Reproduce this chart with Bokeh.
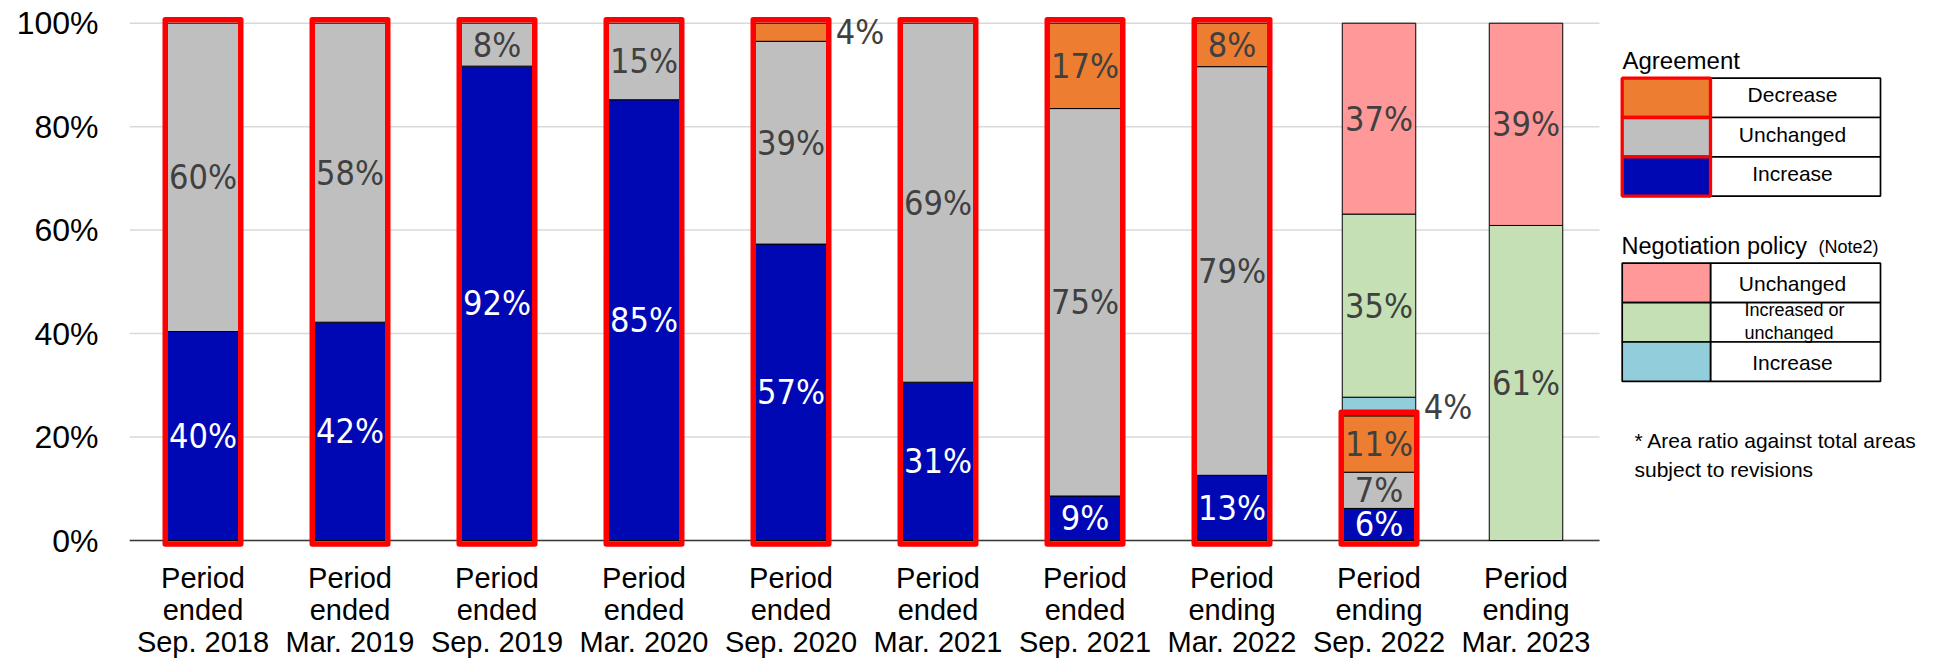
from bokeh.plotting import figure
from bokeh.models import Range1d, FixedTicker, ColumnDataSource
from bokeh.core.properties import value
from bokeh.embed import file_html
from bokeh.resources import INLINE

# ---------------- data ----------------
categories = [
    "Period\nended\nSep. 2018", "Period\nended\nMar. 2019", "Period\nended\nSep. 2019",
    "Period\nended\nMar. 2020", "Period\nended\nSep. 2020", "Period\nended\nMar. 2021",
    "Period\nended\nSep. 2021", "Period\nending\nMar. 2022", "Period\nending\nSep. 2022",
    "Period\nending\nMar. 2023",
]
# Agreement (percent)
agr_increase = [40.4, 42.2, 91.7, 85.2, 57.3, 30.6, 8.6, 12.6, 6.2, 0.0]
agr_unchanged = [59.6, 57.8, 8.3, 14.8, 39.2, 69.4, 74.9, 79.0, 7.0, 0.0]
agr_decrease = [0.0, 0.0, 0.0, 0.0, 3.5, 0.0, 16.5, 8.4, 10.9, 0.0]
# Negotiation policy (percent)
pol_increase = [0.0, 0.0, 0.0, 0.0, 0.0, 0.0, 0.0, 0.0, 3.6, 0.0]
pol_increased_or_unchanged = [0.0, 0.0, 0.0, 0.0, 0.0, 0.0, 0.0, 0.0, 35.4, 60.9]
pol_unchanged = [0.0, 0.0, 0.0, 0.0, 0.0, 0.0, 0.0, 0.0, 36.9, 39.1]

y_ticks = [0, 20, 40, 60, 80, 100]
y_tick_labels = ["0%", "20%", "40%", "60%", "80%", "100%"]

agr_legend_labels = ["Decrease", "Unchanged", "Increase"]
pol_legend_labels = ["Unchanged", "Increased or\nunchanged", "Increase"]
footnote_lines = ["* Area ratio against total areas", "subject to revisions"]

# ---------------- styles ----------------
C_BLUE = "#0008B4"
C_GRAY = "#BFBFBF"
C_ORANGE = "#ED7D31"
C_LBLUE = "#92CDDC"
C_GREEN = "#C5E0B4"
C_PINK = "#FF9999"
C_RED = "#FF0000"
DARK = "#404040"
AX_FONT = "Liberation Sans"
LBL_FONT = "DejaVu Sans Condensed"

series = [
    (agr_increase, C_BLUE, "white"),
    (agr_unchanged, C_GRAY, DARK),
    (agr_decrease, C_ORANGE, DARK),
    (pol_increase, C_LBLUE, DARK),
    (pol_increased_or_unchanged, C_GREEN, DARK),
    (pol_unchanged, C_PINK, DARK),
]
agreement_series = [agr_increase, agr_unchanged, agr_decrease]

N = len(categories)
BAR_W = 0.5
W, H = 1951, 659
FRAME_L, FRAME_T, FRAME_B = 129, 14, H
ZERO_PX, HUNDRED_PX = 540.0, 22.7
PX_Y = (ZERO_PX - HUNDRED_PX) / 100.0
Y0 = -(FRAME_B - ZERO_PX) / PX_Y
Y1 = 100.0 + (HUNDRED_PX - FRAME_T) / PX_Y
PX_X = 147.0   # pixels per category
X_START = -0.5
X_END = X_START + (W - FRAME_L) / PX_X

def px2x(px):
    return X_START + (px - FRAME_L) / PX_X

def py2y(py):
    return Y0 + (FRAME_B - py) / PX_Y

# ---------------- segments ----------------
seg = dict(x=[], bottom=[], top=[], color=[])
lab = dict(x=[], y=[], text=[], color=[], align=[])
for i in range(N):
    base = 0.0
    for vals, col, tcol in series:
        v = vals[i]
        if v <= 0:
            continue
        seg["x"].append(i)
        seg["bottom"].append(base)
        seg["top"].append(base + v)
        seg["color"].append(col)
        txt = f"{int(v + 0.5)}%"
        if v < 5:
            lab["x"].append(i + BAR_W / 2 + 0.055)
            lab["align"].append("left")
        else:
            lab["x"].append(i)
            lab["align"].append("center")
        lab["y"].append(base + v / 2)
        lab["text"].append(txt)
        lab["color"].append(tcol)
        base += v

# red outlines around agreement stacks
box = dict(left=[], right=[], bottom=[], top=[])
pad_x = 1.0 / PX_X
pad_y = 3.5 / PX_Y
for i in range(N):
    tot = sum(s[i] for s in agreement_series)
    if tot <= 0:
        continue
    box["left"].append(i - BAR_W / 2 - pad_x)
    box["right"].append(i + BAR_W / 2 + pad_x)
    box["bottom"].append(-pad_y)
    box["top"].append(tot + pad_y)

# category labels (three lines each, below the baseline)
LINE_MID_PX = [577.0, 609.8, 641.5]
cat = dict(x=[], y=[], text=[])
for i, c in enumerate(categories):
    for j, line in enumerate(c.split("\n")):
        cat["x"].append(i)
        cat["y"].append(py2y(LINE_MID_PX[j]))
        cat["text"].append(line)

# ---------------- figure ----------------
p = figure(width=W, height=H, x_range=Range1d(X_START, X_END),
           y_range=Range1d(Y0, Y1), toolbar_location=None,
           output_backend="svg", min_border_left=FRAME_L, min_border_right=0,
           min_border_top=FRAME_T, min_border_bottom=0, x_axis_location=None)
p.outline_line_color = None
p.background_fill_color = "white"
p.grid.visible = False

# gridlines and baseline, limited to the bar area
n_t = len(y_ticks)
p.segment(x0=[X_START] * n_t, x1=[N - 0.5] * n_t, y0=y_ticks, y1=y_ticks,
          line_color="#D9D9D9", line_width=1.5)
p.segment(x0=[X_START], x1=[N - 0.5], y0=[0], y1=[0], line_color="#3A3A3A",
          line_width=1.5)

p.vbar(x="x", bottom="bottom", top="top", width=BAR_W, fill_color="color",
       line_color="black", line_width=1, source=ColumnDataSource(seg))
p.quad(left="left", right="right", bottom="bottom", top="top", fill_color=None,
       line_color=C_RED, line_width=5.5, line_join="round",
       source=ColumnDataSource(box))
p.text(x="x", y="y", text="text", text_color="color", text_align="align",
       text_baseline="middle", text_font=value(LBL_FONT), text_font_size="34px",
       source=ColumnDataSource(lab))
p.text(x="x", y="y", text="text", text_color="black", text_align="center",
       text_baseline="middle", text_font=value(AX_FONT), text_font_size="29px",
       source=ColumnDataSource(cat))

p.yaxis.ticker = FixedTicker(ticks=y_ticks)
p.yaxis.major_label_overrides = {t: l for t, l in zip(y_ticks, y_tick_labels)}
p.yaxis.major_label_text_font = AX_FONT
p.yaxis.major_label_text_font_size = "32px"
p.yaxis.major_label_text_color = "black"
p.yaxis.major_label_standoff = 31
p.yaxis.axis_line_color = None
p.yaxis.major_tick_line_color = None
p.yaxis.minor_tick_line_color = None
p.yaxis.major_tick_out = 0
p.yaxis.major_tick_in = 0

# ---------------- legend (positions given in pixels, converted) ----------------
X0, XS, X1 = 1621.7, 1710.0, 1880.0
TXT_CX = 1792.0

def legend_table(top, row_h, labels, colors, sw_line, sw_w, dy):
    n = len(labels)
    tops = [top + k * row_h for k in range(n)]
    bots = [t + row_h for t in tops]
    p.quad(left=[px2x(XS)] * n, right=[px2x(X1)] * n, top=[py2y(t) for t in tops],
           bottom=[py2y(b) for b in bots], fill_color="white",
           line_color="black", line_width=1.7)
    p.quad(left=[px2x(X0)] * n, right=[px2x(XS)] * n, top=[py2y(t) for t in tops],
           bottom=[py2y(b) for b in bots], fill_color=colors,
           line_color=sw_line, line_width=sw_w)
    for k, lbl in enumerate(labels):
        lines = lbl.split("\n")
        cy = tops[k] + row_h / 2 + dy
        if len(lines) == 1:
            p.text(x=[px2x(TXT_CX)], y=[py2y(cy)], text=[lbl], text_align="center",
                   text_baseline="middle", text_font=value(AX_FONT),
                   text_font_size="21px", text_color="black")
        else:
            sp = 22.7
            ys = [py2y(cy - 1 + (j - (len(lines) - 1) / 2) * sp) for j in range(len(lines))]
            p.text(x=[px2x(1744)] * len(lines), y=ys, text=lines, text_align="left",
                   text_baseline="middle", text_font=value(AX_FONT),
                   text_font_size="18px", text_color="black")

p.text(x=[px2x(1622)], y=[py2y(59.5)], text=["Agreement"], text_baseline="middle",
       text_font=value(AX_FONT), text_font_size="24px", text_color="black")
legend_table(77.7, 39.3, agr_legend_labels, [C_ORANGE, C_GRAY, C_BLUE], C_RED, 3.3, -3.0)

p.text(x=[px2x(1621)], y=[py2y(245.0)], text=["Negotiation policy"],
       text_baseline="middle", text_font=value(AX_FONT), text_font_size="23.5px",
       text_color="black")
p.text(x=[px2x(1818)], y=[py2y(246.5)], text=["(Note2)"], text_baseline="middle",
       text_font=value(AX_FONT), text_font_size="18px", text_color="black")
legend_table(262.7, 39.4, pol_legend_labels, [C_PINK, C_GREEN, C_LBLUE], "black", 1.7, 0.5)

p.text(x=[px2x(1634)] * 2, y=[py2y(440.2), py2y(468.5)], text=footnote_lines,
       text_baseline="middle", text_font=value(AX_FONT), text_font_size="21px",
       text_color="black")

open("out.html", "w").write(file_html(p, INLINE))
